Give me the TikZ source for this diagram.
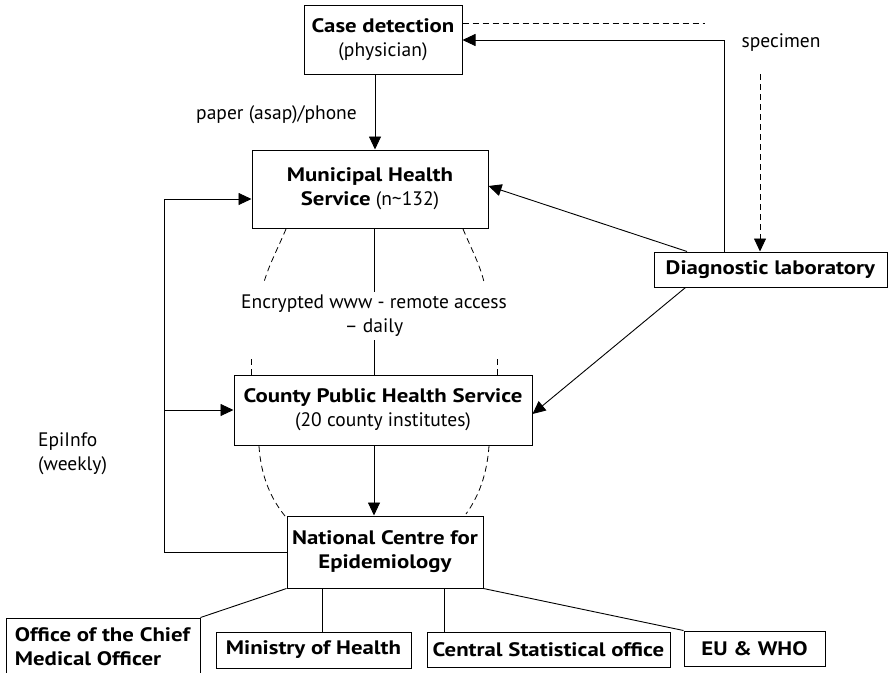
\documentclass[tikz,border=0pt]{standalone}
\usepackage{fontspec}
\setmainfont{PT Sans}[BoldFeatures={FakeStretch=1.17}]
\usetikzlibrary{arrows.meta}
\tikzset{
  box/.style={draw, line width=1pt, align=center, inner sep=2pt},
  arr/.style={line width=0.9pt, -{Triangle[length=13pt,width=12pt]}},
  link/.style={line width=0.9pt},
  dashline/.style={line width=0.8pt, dash pattern=on 6pt off 4pt},
}
\begin{document}
\begin{tikzpicture}[x=1pt,y=1pt,yscale=-1,xscale=1,font=\fontsize{19.5}{24}\selectfont]
\useasboundingbox (0,0) rectangle (888,672);

% Boxes
\node[box, minimum width=158pt, minimum height=69pt] (case) at (383,39.5) {\textbf{Case detection}\\(physician)};
\node[box, minimum width=236pt, minimum height=78pt] (muni) at (370,189) {\textbf{Municipal Health}\\\textbf{Service} (n\textasciitilde 132)};
\node[box, minimum width=298pt, minimum height=70pt] (county) at (383,410) {\textbf{County Public Health Service}\\(20 county institutes)};
\node[box, minimum width=196pt, minimum height=72pt] (natl) at (385,552) {\textbf{National Centre for}\\\textbf{Epidemiology}};
\node[box, minimum width=233pt, minimum height=35pt] (lab) at (770.5,269.5) {\textbf{Diagnostic laboratory}};

% Bottom row
\node[box, align=left, minimum width=194pt, minimum height=58pt] (office) at (103,647) {\textbf{Office of the Chief}\\\textbf{Medical Officer}};
\node[box, minimum width=195pt, minimum height=36pt] (mini) at (313.5,650) {\textbf{Ministry of Health}};
\node[box, minimum width=243pt, minimum height=35pt] (stat) at (548.5,649.5) {\textbf{Central Statistical office}};
\node[box, minimum width=141pt, minimum height=35pt] (euwho) at (754.5,648.5) {\textbf{EU \& WHO}};

% Text Nodes
\node[anchor=east, inner sep=0pt] (paper) at (357,115) {paper (asap)/phone};
\node[inner sep=0pt] (spec) at (781,43) {specimen};
\node[align=center, inner sep=3pt] (enc) at (374,316) {Encrypted www - remote access\\– daily};
\node[anchor=west, align=left, inner sep=0pt] (epi) at (38,454) {EpiInfo\\(weekly)};

\coordinate (labtop) at (724,40);
\coordinate (spectop) at (760,74);
\coordinate (dashend) at (705,23);
\coordinate (loop) at (164,199);

% Case detection links
\draw[arr] ([xshift=-8pt]case.south) -- ([xshift=-8pt]case.south |- muni.north);
\draw[dashline] (case.east |- dashend) -- (dashend);
\draw[arr] (labtop |- lab.north) -- (labtop) -- (case.east |- labtop);
\draw[dashline, -{Triangle[length=13pt,width=12pt]}] (spectop) -- (spectop |- lab.north);

% Laboratory links
\draw[arr] ([xshift=-83.5pt]lab.north) -- ([yshift=-3pt]muni.east);
\draw[arr] ([xshift=-85pt]lab.south) -- ([yshift=4pt]county.east);

% Encrypted www
\draw[link] (muni.south -| enc) -- (enc.north);
\draw[link] (enc.south) -- (enc |- county.north);
\draw[dashline] (286,229) .. controls (278,248) and (269,265) .. (264,282);
\draw[dashline] (463,229) .. controls (471,248) and (480,265) .. (484,282);
\draw[dashline] ([xshift=18pt]county.north west) -- ++(0,-19);
\draw[dashline] ([xshift=-35pt]county.north east) -- ++(0,-19);
\draw[dashline] (259,446) .. controls (261,478) and (272,500) .. (285,516);
\draw[dashline] (489,446) .. controls (487,474) and (479,496) .. (466,514);

% County to national
\draw[arr] (county.south -| enc) -- (enc |- natl.north);

% EpiInfo loop
\draw[link] (natl.west) -| (loop);
\draw[arr] (loop) -- (loop -| muni.west);
\draw[arr] (loop |- county) -- (county.west);

% National to bottom row
\draw[link] (natl.south west) -- (office.north east);
\draw[link] ([xshift=-63pt]natl.south) -- ([xshift=-63pt]natl.south |- mini.north);
\draw[link] ([xshift=59pt]natl.south) -- ([xshift=59pt]natl.south |- stat.north);
\draw[link] (natl.south east) -- (euwho.north west);

\end{tikzpicture}
\end{document}
